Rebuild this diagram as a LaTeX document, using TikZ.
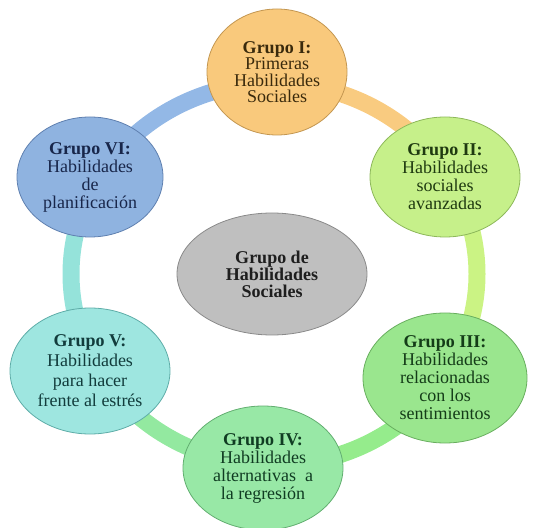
\documentclass[tikz,border=0pt]{standalone}
\usepackage{fontspec}
\setmainfont{Liberation Serif}
\usetikzlibrary{shapes.geometric}
\definecolor{fI}{HTML}{F9C97C}\definecolor{dI}{HTML}{C39650}\definecolor{tI}{HTML}{3A2A0C}
\definecolor{fII}{HTML}{C6F08A}\definecolor{dII}{HTML}{8DB85A}\definecolor{tII}{HTML}{1F3A10}
\definecolor{fIII}{HTML}{9AE68E}\definecolor{dIII}{HTML}{68AE5E}\definecolor{tIII}{HTML}{143C18}
\definecolor{fIV}{HTML}{98E8A6}\definecolor{dIV}{HTML}{62AE70}\definecolor{tIV}{HTML}{103C22}
\definecolor{fV}{HTML}{9EE6E0}\definecolor{dV}{HTML}{5EADA8}\definecolor{tV}{HTML}{123C3C}
\definecolor{fVI}{HTML}{8FB3E0}\definecolor{dVI}{HTML}{5F80B0}\definecolor{tVI}{HTML}{18264A}
\definecolor{fC}{HTML}{BFBFBF}\definecolor{dC}{HTML}{8A8A8A}\definecolor{tC}{HTML}{1E1E1E}
\definecolor{rBlue}{HTML}{93B8E6}\definecolor{rOrange}{HTML}{F9CB80}
\definecolor{rYG}{HTML}{CBF384}\definecolor{rGreen}{HTML}{95EC8C}
\definecolor{rGreenB}{HTML}{93E9A0}\definecolor{rTeal}{HTML}{95E3DA}
\begin{document}
\begin{tikzpicture}[x=1pt,y=1pt,
  grp/.style={ellipse,inner sep=0pt,line width=0.8pt,align=center,font=\fontsize{18}{18}\selectfont},
  ringseg/.style={line width=17pt}]
\useasboundingbox (0,0) rectangle (537,527);
\coordinate (rc) at (274,253);
% ring segments
\draw[ringseg,rBlue]   (rc) ++(90:203 and 191) arc[start angle=90,end angle=150,x radius=203,y radius=191];
\draw[ringseg,rOrange] (rc) ++(30:203 and 191) arc[start angle=30,end angle=90,x radius=203,y radius=191];
\draw[ringseg,rYG]     (rc) ++(-30:203 and 191) arc[start angle=-30,end angle=30,x radius=203,y radius=191];
\draw[ringseg,rGreen]  (rc) ++(-90:203 and 191) arc[start angle=-90,end angle=-30,x radius=203,y radius=191];
\draw[ringseg,rGreenB] (rc) ++(-150:203 and 191) arc[start angle=-150,end angle=-90,x radius=203,y radius=191];
\draw[ringseg,rTeal]   (rc) ++(150:203 and 191) arc[start angle=150,end angle=210,x radius=203,y radius=191];
% nodes
\node[grp,fill=fI,draw=dI,text=tI,minimum width=140,minimum height=126,font=\fontsize{18}{16.5}\selectfont] (g1) at (277,455)
  {\textbf{Grupo I:}\\Primeras\\Habilidades\\Sociales};
\node[grp,fill=fII,draw=dII,text=tII,minimum width=150,minimum height=120] (g2) at (445,350)
  {\textbf{Grupo II:}\\Habilidades\\sociales\\avanzadas};
\node[grp,fill=fIII,draw=dIII,text=tIII,minimum width=164,minimum height=130] (g3) at (445,149)
  {\textbf{Grupo III:}\\Habilidades\\relacionadas\\con los\\sentimientos};
\node[grp,fill=fIV,draw=dIV,text=tIV,minimum width=160,minimum height=124] (g4) at (263,59)
  {\textbf{Grupo IV:}\\Habilidades\\alternativas\ \ a\\la regresión};
\node[grp,fill=fV,draw=dV,text=tV,minimum width=160,minimum height=126,font=\fontsize{18}{20}\selectfont] (g5) at (90,156)
  {\textbf{Grupo V:}\\Habilidades\\para hacer\\frente al estrés};
\node[grp,fill=fVI,draw=dVI,text=tVI,minimum width=146,minimum height=120] (g6) at (90,350)
  {\textbf{Grupo VI:}\\Habilidades\\de\\planificación};
\node[grp,fill=fC,draw=dC,text=tC,minimum width=190,minimum height=122,font=\fontsize{18}{17}\selectfont\bfseries] (gc) at (272,253)
  {Grupo de\\Habilidades\\Sociales};
\end{tikzpicture}
\end{document}
